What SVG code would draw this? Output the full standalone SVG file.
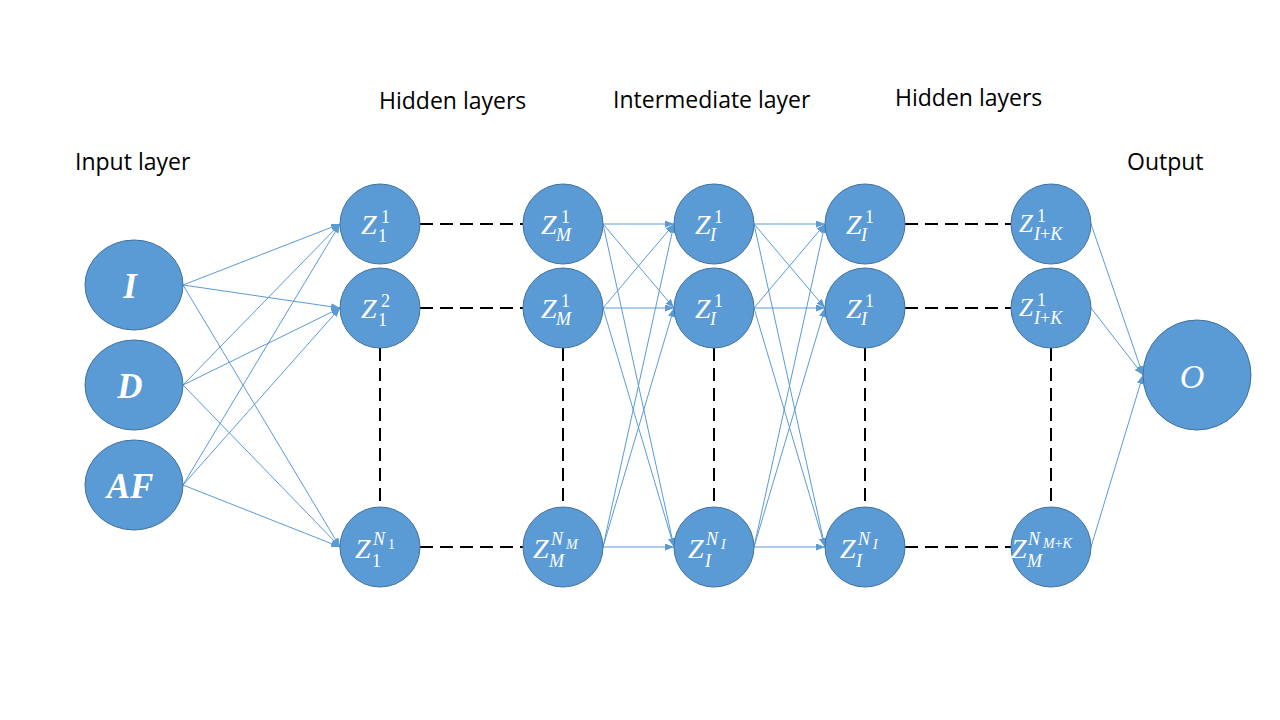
<svg xmlns="http://www.w3.org/2000/svg" width="1280" height="720" viewBox="0 0 1280 720">
<style>
.nd{fill:#5B9BD5;stroke:#41719C;stroke-width:1}
.cn{stroke:#5B9BD5;stroke-width:1;fill:none;marker-end:url(#ah)}
.ds{stroke:#000;stroke-width:2;stroke-dasharray:13,7;fill:none}
.hd{font-family:"Open Sans","Liberation Sans",sans-serif;font-size:23px;fill:#000}
.m{font-family:"Liberation Serif",serif;font-style:italic;fill:#fff}
.z{font-size:28px}
.s{font-size:18px}
.ss{font-size:14px}
.u{font-style:normal}
.in{font-family:"Liberation Serif",serif;font-style:italic;font-weight:bold;font-size:35px;fill:#fff}
</style>
<defs>
<marker id="ah" markerUnits="userSpaceOnUse" markerWidth="10" markerHeight="8" refX="9" refY="3.5" orient="auto">
<path d="M0,0 L9,3.5 L0,7 z" fill="#5B9BD5"/>
</marker>
</defs>
<rect width="1280" height="720" fill="#fff"/>
<g id="titles">
<text class="hd" x="75" y="170">Input layer</text>
<text class="hd" x="379" y="109">Hidden layers</text>
<text class="hd" x="613" y="108">Intermediate layer</text>
<text class="hd" x="895" y="106">Hidden layers</text>
<text class="hd" x="1127" y="170">Output</text>
</g>
<g id="connectors">
<line class="cn" x1="183" y1="285" x2="340" y2="224"/>
<line class="cn" x1="183" y1="285" x2="340" y2="308"/>
<line class="cn" x1="183" y1="285" x2="340" y2="547"/>
<line class="cn" x1="183" y1="385" x2="340" y2="224"/>
<line class="cn" x1="183" y1="385" x2="340" y2="308"/>
<line class="cn" x1="183" y1="385" x2="340" y2="547"/>
<line class="cn" x1="183" y1="485" x2="340" y2="224"/>
<line class="cn" x1="183" y1="485" x2="340" y2="308"/>
<line class="cn" x1="183" y1="485" x2="340" y2="547"/>
<line class="cn" x1="603" y1="224" x2="674" y2="224"/>
<line class="cn" x1="603" y1="224" x2="674" y2="308"/>
<line class="cn" x1="603" y1="224" x2="674" y2="547"/>
<line class="cn" x1="603" y1="308" x2="674" y2="224"/>
<line class="cn" x1="603" y1="308" x2="674" y2="308"/>
<line class="cn" x1="603" y1="308" x2="674" y2="547"/>
<line class="cn" x1="603" y1="547" x2="674" y2="224"/>
<line class="cn" x1="603" y1="547" x2="674" y2="308"/>
<line class="cn" x1="603" y1="547" x2="674" y2="547"/>
<line class="cn" x1="754" y1="224" x2="825" y2="224"/>
<line class="cn" x1="754" y1="224" x2="825" y2="308"/>
<line class="cn" x1="754" y1="224" x2="825" y2="547"/>
<line class="cn" x1="754" y1="308" x2="825" y2="224"/>
<line class="cn" x1="754" y1="308" x2="825" y2="308"/>
<line class="cn" x1="754" y1="308" x2="825" y2="547"/>
<line class="cn" x1="754" y1="547" x2="825" y2="224"/>
<line class="cn" x1="754" y1="547" x2="825" y2="308"/>
<line class="cn" x1="754" y1="547" x2="825" y2="547"/>
<line class="cn" x1="1091" y1="224" x2="1143" y2="375"/>
<line class="cn" x1="1091" y1="308" x2="1143" y2="375"/>
<line class="cn" x1="1091" y1="547" x2="1143" y2="375"/>
<line class="ds" x1="420" y1="224" x2="523" y2="224"/>
<line class="ds" x1="420" y1="308" x2="523" y2="308"/>
<line class="ds" x1="420" y1="547" x2="523" y2="547"/>
<line class="ds" x1="905" y1="224" x2="1011" y2="224"/>
<line class="ds" x1="905" y1="308" x2="1011" y2="308"/>
<line class="ds" x1="905" y1="547" x2="1011" y2="547"/>
<line class="ds" x1="380" y1="348" x2="380" y2="507"/>
<line class="ds" x1="563" y1="348" x2="563" y2="507"/>
<line class="ds" x1="714" y1="348" x2="714" y2="507"/>
<line class="ds" x1="865" y1="348" x2="865" y2="507"/>
<line class="ds" x1="1051" y1="348" x2="1051" y2="507"/>
</g>
<g id="in-I"><ellipse class="nd" cx="134" cy="285" rx="49" ry="45"/><text class="in" x="130" y="298" text-anchor="middle">I</text></g>
<g id="in-D"><ellipse class="nd" cx="134" cy="385" rx="49" ry="45"/><text class="in" x="130" y="398" text-anchor="middle">D</text></g>
<g id="in-AF"><ellipse class="nd" cx="134" cy="485" rx="49" ry="45"/><text class="in" x="130" y="498" text-anchor="middle">AF</text></g>

<g id="h1-1"><circle class="nd" cx="380" cy="224" r="40"/>
<text class="m z" x="361" y="234">Z</text><text class="m s u" x="381" y="223">1</text><text class="m s u" x="378" y="242">1</text></g>
<g id="h1-2"><circle class="nd" cx="380" cy="308" r="40"/>
<text class="m z" x="361" y="318">Z</text><text class="m s u" x="381" y="307">2</text><text class="m s u" x="378" y="326">1</text></g>
<g id="h1-n"><circle class="nd" cx="380" cy="547" r="40"/>
<text class="m z" x="355" y="558">Z</text><text class="m s" x="373" y="545">N</text><text class="m ss u" x="388" y="549">1</text><text class="m s u" x="372" y="567">1</text></g>

<g id="hm-1"><circle class="nd" cx="563" cy="224" r="40"/>
<text class="m z" x="541" y="234">Z</text><text class="m s u" x="561" y="223">1</text><text class="m s" x="556" y="241">M</text></g>
<g id="hm-2"><circle class="nd" cx="563" cy="308" r="40"/>
<text class="m z" x="541" y="318">Z</text><text class="m s u" x="561" y="307">1</text><text class="m s" x="556" y="325">M</text></g>
<g id="hm-n"><circle class="nd" cx="563" cy="547" r="40"/>
<text class="m z" x="533" y="558">Z</text><text class="m s" x="551" y="545">N</text><text class="m ss" x="566" y="549">M</text><text class="m s" x="549" y="567">M</text></g>

<g id="mi-1"><circle class="nd" cx="714" cy="224" r="40"/>
<text class="m z" x="695" y="234">Z</text><text class="m s u" x="714" y="223">1</text><text class="m s" x="710" y="241">I</text></g>
<g id="mi-2"><circle class="nd" cx="714" cy="308" r="40"/>
<text class="m z" x="695" y="318">Z</text><text class="m s u" x="714" y="307">1</text><text class="m s" x="710" y="325">I</text></g>
<g id="mi-n"><circle class="nd" cx="714" cy="547" r="40"/>
<text class="m z" x="688" y="558">Z</text><text class="m s" x="706" y="545">N</text><text class="m ss" x="721" y="549">I</text><text class="m s" x="705" y="567">I</text></g>

<g id="h2-1"><circle class="nd" cx="865" cy="224" r="40"/>
<text class="m z" x="846" y="234">Z</text><text class="m s u" x="865" y="223">1</text><text class="m s" x="861" y="241">I</text></g>
<g id="h2-2"><circle class="nd" cx="865" cy="308" r="40"/>
<text class="m z" x="846" y="318">Z</text><text class="m s u" x="865" y="307">1</text><text class="m s" x="861" y="325">I</text></g>
<g id="h2-n"><circle class="nd" cx="865" cy="547" r="40"/>
<text class="m z" x="840" y="558">Z</text><text class="m s" x="858" y="545">N</text><text class="m ss" x="873" y="549">I</text><text class="m s" x="856" y="567">I</text></g>

<g id="hk-1"><circle class="nd" cx="1051" cy="224" r="40"/>
<text class="m" style="font-size:25px" x="1019" y="232">Z</text><text class="m s u" x="1037" y="222">1</text><text class="m s" x="1034" y="240">I<tspan class="u">+</tspan>K</text></g>
<g id="hk-2"><circle class="nd" cx="1051" cy="308" r="40"/>
<text class="m" style="font-size:25px" x="1019" y="316">Z</text><text class="m s u" x="1037" y="306">1</text><text class="m s" x="1034" y="324">I<tspan class="u">+</tspan>K</text></g>
<g id="hk-n"><circle class="nd" cx="1051" cy="547" r="40"/>
<text class="m z" x="1011" y="558">Z</text><text class="m s" x="1028" y="545">N</text><text class="m ss" x="1043" y="548">M<tspan class="u">+</tspan>K</text><text class="m s" x="1027" y="567">M</text></g>

<g id="out-O"><ellipse class="nd" cx="1197" cy="375" rx="54" ry="55"/><text class="m" style="font-size:34px" x="1192" y="388" text-anchor="middle">O</text></g>
</svg>
